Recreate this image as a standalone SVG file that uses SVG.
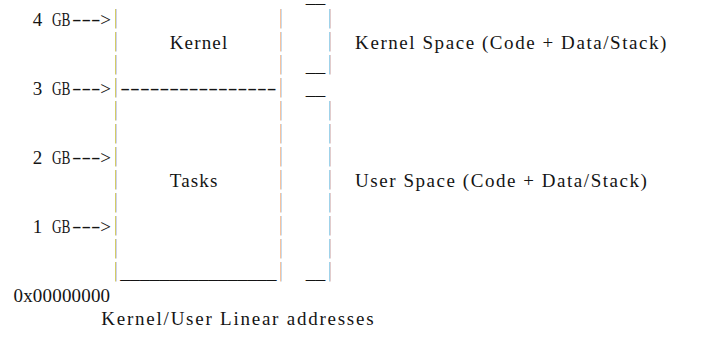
<svg xmlns="http://www.w3.org/2000/svg" width="703" height="348" viewBox="0 0 703 348">
  <style>
    /* monospace grid: cell width 9.76px, row pitch 23px, baselines at 26 + 23n */
    .t { font-family: "Liberation Serif", "Times New Roman", serif; font-size: 19px; fill: #141414; }
    .mid { text-anchor: middle; }
    .bar { fill: none; stroke-width: 1; stroke-dasharray: 19.5 3.5; }
    .b1a { stroke: #d3cc66; } .b1b { stroke: #cdd0ee; }
    .b2a { stroke: #f6c29f; } .b2b { stroke: #c6dcee; }
    .b3a { stroke: #9fd2ea; } .b3b { stroke: #e2cccc; }
  </style>
  <rect width="703" height="348" fill="#ffffff"/>

  <!-- address markers; "GB" condensed to two grid cells -->
  <g id="addr-4gb">
    <text class="t mid" x="37.4" y="26">4</text>
    <text class="t" transform="translate(52 26) scale(0.7 1)">GB</text>
  </g>
  <g id="addr-3gb">
    <text class="t mid" x="37.4" y="95">3</text>
    <text class="t" transform="translate(52 95) scale(0.7 1)">GB</text>
  </g>
  <g id="addr-2gb">
    <text class="t mid" x="37.4" y="164">2</text>
    <text class="t" transform="translate(52 164) scale(0.7 1)">GB</text>
  </g>
  <g id="addr-1gb">
    <text class="t mid" x="37.4" y="233">1</text>
    <text class="t" transform="translate(52 233) scale(0.7 1)">GB</text>
  </g>
  <g id="addr-0"><text class="t" x="13.5" y="302" textLength="96.6" lengthAdjust="spacing">0x00000000</text></g>

  <!-- arrows from the address markers to the memory column; dashes widened to three cells -->
  <g id="connectors">
    <text class="t" transform="translate(72 24.5) scale(1.5 1)">---</text>
    <text class="t mid" x="105.72" y="26">&gt;</text>
    <text class="t" transform="translate(72 93.5) scale(1.5 1)">---</text>
    <text class="t mid" x="105.72" y="95">&gt;</text>
    <text class="t" transform="translate(72 162.5) scale(1.5 1)">---</text>
    <text class="t mid" x="105.72" y="164">&gt;</text>
    <text class="t" transform="translate(72 231.5) scale(1.5 1)">---</text>
    <text class="t mid" x="105.72" y="233">&gt;</text>
  </g>

  <!-- memory column: two walls, 3 GB divider, floor -->
  <g id="memory-map">
    <path class="bar b1a" d="M115.5 9V282"/>
    <path class="bar b1b" d="M116.5 9V282"/>
    <path class="bar b2a" d="M280.5 9V282"/>
    <path class="bar b2b" d="M281.5 9V282"/>
    <text class="t" x="120.36" y="93.5" textLength="156.16" lengthAdjust="spacingAndGlyphs">----------------</text>
    <text class="t" x="120.36" y="279" textLength="156.16" lengthAdjust="spacingAndGlyphs">________________</text>
    <g id="kernel"><text class="t" x="169.66" y="49" textLength="57.6" lengthAdjust="spacing">Kernel</text></g>
    <g id="tasks"><text class="t" x="169.66" y="187" textLength="47.8" lengthAdjust="spacing">Tasks</text></g>
  </g>

  <!-- kernel space bracket (rows 0-2) -->
  <g id="kernel-space">
    <text class="t" x="305.8" y="3" textLength="19.52" lengthAdjust="spacingAndGlyphs">__</text>
    <text class="t" x="305.8" y="72" textLength="19.52" lengthAdjust="spacingAndGlyphs">__</text>
    <path class="bar b3a" d="M329.5 9V75"/>
    <path class="bar b3b" d="M330.5 9V75"/>
    <text class="t" x="355.1" y="49" textLength="311.3" lengthAdjust="spacing">Kernel Space (Code + Data/Stack)</text>
  </g>

  <!-- user space bracket (rows 3-11) -->
  <g id="user-space">
    <text class="t" x="305.8" y="95" textLength="19.52" lengthAdjust="spacingAndGlyphs">__</text>
    <text class="t" x="305.8" y="279" textLength="19.52" lengthAdjust="spacingAndGlyphs">__</text>
    <path class="bar b3a" d="M329.5 101V282"/>
    <path class="bar b3b" d="M330.5 101V282"/>
    <text class="t" x="355.1" y="187" textLength="291.8" lengthAdjust="spacing">User Space (Code + Data/Stack)</text>
  </g>

  <g id="caption">
    <text class="t" x="101.34" y="325" textLength="272.28" lengthAdjust="spacing">Kernel/User Linear addresses</text>
  </g>
</svg>
